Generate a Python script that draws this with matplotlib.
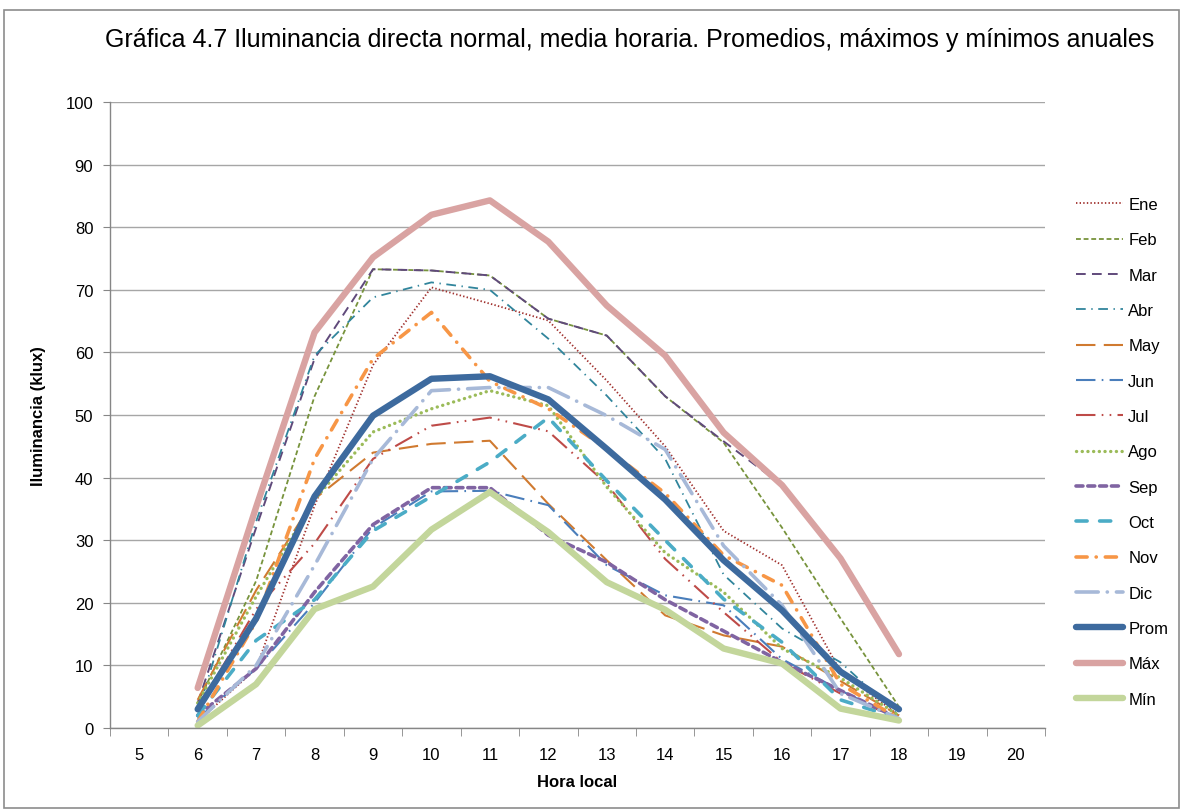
import numpy as np
import matplotlib
matplotlib.use("Agg")
import matplotlib.pyplot as plt
from matplotlib.patches import Rectangle

plt.rcParams['font.family'] = ['Liberation Sans', 'DejaVu Sans']
plt.rcParams['lines.scale_dashes'] = False

hours = ['5', '6', '7', '8', '9', '10', '11', '12', '13', '14', '15', '16', '17', '18', '19', '20']
nan = np.nan

ene = [nan, 1.0, 9.5, 35.5, 58.0, 70.4, 67.8, 65.1, 55.5, 45.0, 31.5, 26.0, 9.0, 2.0, nan, nan]
feb = [nan, 4.0, 23.5, 53.0, 73.3, 73.1, 72.3, 65.4, 62.7, 53.0, 45.6, 32.0, 17.5, 3.4, nan, nan]
mar = [nan, 4.0, 32.0, 59.0, 73.3, 73.1, 72.3, 65.4, 62.7, 53.0, 45.8, 38.8, 27.0, 11.8, nan, nan]
abr = [nan, 2.5, 33.0, 59.5, 68.8, 71.2, 70.0, 62.2, 53.1, 43.0, 24.5, 15.9, 10.5, 2.0, nan, nan]
may = [nan, 4.5, 22.0, 36.6, 44.0, 45.4, 45.9, 35.8, 26.8, 18.0, 14.8, 13.0, 7.5, 2.0, nan, nan]
jun = [nan, 1.5, 9.5, 20.0, 32.0, 37.8, 37.9, 35.6, 26.0, 21.2, 19.6, 11.0, 6.0, 1.5, nan, nan]
jul = [nan, 3.0, 19.0, 29.5, 43.0, 48.3, 49.6, 47.4, 39.0, 27.0, 18.5, 10.5, 5.5, 1.5, nan, nan]
ago = [nan, 4.0, 21.0, 36.5, 47.3, 51.0, 53.9, 51.5, 38.5, 28.0, 21.7, 12.7, 8.0, 2.0, nan, nan]
sep = [nan, 2.0, 9.5, 21.7, 32.5, 38.4, 38.4, 30.8, 26.5, 20.5, 15.5, 10.5, 6.0, 1.5, nan, nan]
oct_ = [nan, 2.0, 14.0, 20.5, 31.5, 37.0, 42.5, 49.6, 39.5, 30.0, 20.6, 13.7, 4.5, 1.5, nan, nan]
nov = [nan, 1.0, 17.0, 43.0, 59.0, 66.4, 55.4, 51.0, 44.6, 37.5, 27.6, 22.8, 7.0, 1.5, nan, nan]
dic = [nan, 1.0, 10.0, 26.0, 43.0, 53.9, 54.4, 54.4, 49.9, 44.5, 29.1, 19.6, 5.5, 1.5, nan, nan]
prom = [nan, 3.0, 17.5, 37.0, 49.9, 55.8, 56.2, 52.5, 44.6, 36.5, 26.8, 18.8, 9.0, 3.0, nan, nan]
maxv = [nan, 6.4, 35.3, 63.2, 75.2, 82.0, 84.3, 77.7, 67.5, 59.5, 47.2, 38.8, 27.1, 11.8, nan, nan]
minv = [nan, 0.4, 7.0, 19.0, 22.6, 31.7, 37.7, 31.3, 23.3, 18.9, 12.7, 10.3, 3.1, 1.2, nan, nan]

labels = ['Ene', 'Feb', 'Mar', 'Abr', 'May', 'Jun', 'Jul', 'Ago', 'Sep', 'Oct', 'Nov', 'Dic', 'Prom', 'Máx', 'Mín']
series = [ene, feb, mar, abr, may, jun, jul, ago, sep, oct_, nov, dic, prom, maxv, minv]

styles = [
    dict(color='#A0302D', lw=1.3, ls=(0, (1.0, 1.6))),
    dict(color='#77933C', lw=1.3, ls=(0, (3.5, 2.0))),
    dict(color='#604A7B', lw=1.4, ls=(0, (7, 4.5))),
    dict(color='#31859C', lw=1.3, ls=(0, (7, 4, 1, 4))),
    dict(color='#D07A30', lw=1.5, ls=(0, (14, 6))),
    dict(color='#4A7EBB', lw=1.5, ls=(0, (14, 4.5, 1.2, 4.5))),
    dict(color='#BE4B48', lw=1.5, ls=(0, (14, 4.5, 1.2, 4.5, 1.2, 4.5))),
    dict(color='#9BBB59', lw=2.4, ls=(0, (0.1, 4.0)), dash_capstyle='round'),
    dict(color='#8064A2', lw=2.6, ls=(0, (5, 3.5)), dash_capstyle='round'),
    dict(color='#4BACC6', lw=2.6, ls=(0, (8, 9)), dash_capstyle='round'),
    dict(color='#F79646', lw=2.6, ls=(0, (8, 6.5, 0.1, 6.5)), dash_capstyle='round'),
    dict(color='#A7B9D8', lw=2.6, ls=(0, (16, 6.5, 0.1, 6.5)), dash_capstyle='round'),
    dict(color='#3D6A9E', lw=4.6, ls='-', solid_capstyle='round'),
    dict(color='#D9A3A2', lw=4.6, ls='-', solid_capstyle='round'),
    dict(color='#C3D69B', lw=4.6, ls='-', solid_capstyle='round'),
]

fig = plt.figure(figsize=(11.83, 8.12), dpi=100)
ax = fig.add_axes([0.093, 0.1022, 0.7904, 0.7708])

x = np.arange(len(hours))
for s, lab, st in zip(series, labels, styles):
    st = dict(st)
    ls = st.pop('ls')
    ax.plot(x, s, linestyle=ls, label=lab, **st)

ax.set_xlim(-0.5, len(hours) - 0.5)
ax.set_ylim(0, 100)
ax.set_yticks(np.arange(0, 101, 10))
ax.set_xticks(x)
ax.set_xticklabels(hours)
ax.set_xticks(np.arange(-0.5, len(hours), 1), minor=True)
ax.tick_params(axis='x', which='major', length=0, labelsize=12, pad=14)
ax.tick_params(axis='x', which='minor', length=6, color='#868686', direction='out')
ax.tick_params(axis='y', length=5, color='#868686', labelsize=12, pad=7)
ax.yaxis.grid(True, color='#A6A6A6', lw=1.0)
ax.set_axisbelow(True)
for sp in ['top', 'right']:
    ax.spines[sp].set_visible(False)
for sp in ['left', 'bottom']:
    ax.spines[sp].set_color('#868686')
    ax.spines[sp].set_linewidth(1.0)

ax.set_xlabel('Hora local', fontsize=12, fontweight='bold', labelpad=8)
ax.set_ylabel('Iluminancia (klux)', fontsize=12, fontweight='bold', labelpad=14)

fig.text(0.5325, 0.951, 'Gráfica 4.7 Iluminancia directa normal, media horaria. Promedios, máximos y mínimos anuales',
         ha='center', va='center', fontsize=18)

leg = ax.legend(loc='upper left', bbox_to_anchor=(1.0257, 0.859), frameon=False,
                fontsize=12, handlelength=2.85, handletextpad=0.3, labelspacing=1.22,
                borderaxespad=0)

fig.patches.append(Rectangle((0.003, 0.004), 0.994, 0.983, transform=fig.transFigure,
                             fill=False, edgecolor='#8C8C8C', lw=1.2))

fig.savefig('out.png', dpi=100)
